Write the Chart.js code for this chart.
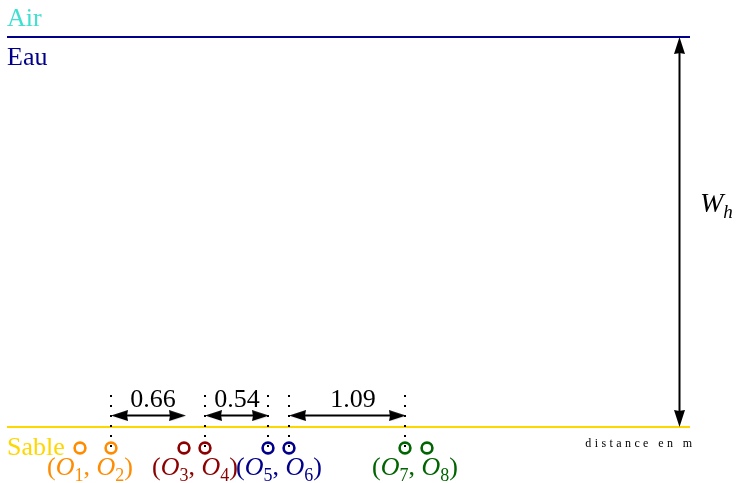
<!DOCTYPE html>
<html lang="fr">
<head>
<meta charset="utf-8">
<title>Capteurs</title>
<script src="https://cdn.jsdelivr.net/npm/chart.js@4.4.0/dist/chart.umd.min.js"></script>
<style>
  html, body { margin: 0; padding: 0; background: #fff; }
  #zone { width: 738px; height: 483px; position: relative; }
</style>
</head>
<body>
<div id="zone"><canvas id="schema"></canvas></div>
<script>
// ------------ Données (distances en m) ------------
const capteurs = ['O_1', 'O_2', 'O_3', 'O_4', 'O_5', 'O_6', 'O_7', 'O_8'];
const positionsCapteurs = [0.80, 1.11, 1.84, 2.05, 2.68, 2.89, 4.05, 4.27];
const paires = ['(O_1, O_2)', '(O_3, O_4)', '(O_5, O_6)', '(O_7, O_8)'];
const centresPaires = [0.90, 1.95, 2.79, 4.15];
const couleursPaires = ['#ff8c00', '#8b0000', '#00008b', '#006400'];

const reperes = [1.11, 2.05, 2.68, 2.89, 4.05];
const cotes = ['0.66', '0.54', '1.09'];
const cotesDebut = [1.11, 2.05, 2.89];
const cotesFin = [1.86, 2.69, 4.06];
const centresCotes = [1.53, 2.37, 3.53];

const couches = ['Air', 'Eau', 'Sable'];
const debutFond = 0.07, finFond = 6.90;
const niveauEau = 0;
const niveauSable = 3.90;
const profondeurCapteurs = 4.11;
const hautReperes = 3.58;
const niveauCotes = 3.786;
const positionWh = 6.795;

// ------------ Styles ------------
const police = '"Liberation Serif", "DejaVu Serif", serif';
const taille = 26;
const demiPointe = 0.085; // demi-longueur de la pointe, en unités du schéma

function pointeFleche(long, larg) {
  const c = document.createElement('canvas');
  c.width = long;
  c.height = larg;
  const g = c.getContext('2d');
  g.fillStyle = '#000';
  g.beginPath();
  g.moveTo(0, 0);
  g.lineTo(long, larg / 2);
  g.lineTo(0, larg);
  g.quadraticCurveTo(long * 0.1, larg / 2, 0, 0);
  g.fill();
  return c;
}
const pointe = pointeFleche(17, 11);

function segment(x1, y1, x2, y2, couleur, extra) {
  return Object.assign({
    data: [{ x: x1, y: y1 }, { x: x2, y: y2 }],
    showLine: true,
    borderColor: couleur,
    borderWidth: 2,
    pointRadius: 0
  }, extra || {});
}

// ------------ Jeux de données ------------
const jeux = [];

// pointillés des repères (au-dessus des cercles)
reperes.forEach(x => jeux.push(segment(x, hautReperes, x, profondeurCapteurs, '#000', { borderDash: [2, 8] })));

// capteurs
couleursPaires.forEach((couleur, i) => {
  jeux.push({
    data: positionsCapteurs.slice(i * 2, i * 2 + 2).map(x => ({ x, y: profondeurCapteurs })),
    pointStyle: 'circle',
    pointRadius: 5.4,
    borderWidth: 2.6,
    borderColor: couleur,
    backgroundColor: '#fff'
  });
});

// pointes des flèches
const pointes = [], rotations = [];
cotesDebut.forEach((d, i) => {
  pointes.push({ x: d + demiPointe, y: niveauCotes }, { x: cotesFin[i] - demiPointe, y: niveauCotes });
  rotations.push(180, 0);
});
pointes.push({ x: positionWh, y: niveauEau + demiPointe }, { x: positionWh, y: niveauSable - demiPointe });
rotations.push(270, 90);
jeux.push({ data: pointes, pointStyle: pointe, pointRotation: rotations, pointRadius: 9 });

// tiges des flèches
cotesDebut.forEach((d, i) => jeux.push(segment(d + demiPointe, niveauCotes, cotesFin[i] - demiPointe, niveauCotes, '#000')));
jeux.push(segment(positionWh, niveauEau + demiPointe, positionWh, niveauSable - demiPointe, '#000'));

// surface de l'eau et fond sableux
jeux.push(segment(debutFond, niveauEau, finFond, niveauEau, '#00008b'));
jeux.push(segment(debutFond, niveauSable, finFond, niveauSable, '#ffd700'));

// ------------ Textes ------------
function texteMath(ctx, texte, x, y, align, couleur, t) {
  const morceaux = [];
  for (let i = 0; i < texte.length; i++) {
    const c = texte[i];
    if (c === '_') {
      const s = texte[++i];
      morceaux.push({ t: s, f: (/[a-z]/i.test(s) ? 'italic ' : '') + Math.round(t * 0.68) + 'px ' + police, dy: t * 0.22 });
    } else {
      morceaux.push({ t: c, f: (/[a-z]/i.test(c) ? 'italic ' : '') + t + 'px ' + police, dy: 0 });
    }
  }
  let largeur = 0;
  morceaux.forEach(m => { ctx.font = m.f; m.w = ctx.measureText(m.t).width; largeur += m.w; });
  let cx = align === 'center' ? x - largeur / 2 : x;
  ctx.fillStyle = couleur;
  ctx.textAlign = 'left';
  ctx.textBaseline = 'alphabetic';
  morceaux.forEach(m => { ctx.font = m.f; ctx.fillText(m.t, cx, y + m.dy); cx += m.w; });
}

const textes = {
  id: 'textes',
  afterDraw(chart) {
    const { ctx, scales: { x, y } } = chart;
    ctx.save();
    ctx.textBaseline = 'alphabetic';
    ctx.textAlign = 'left';
    ctx.font = taille + 'px ' + police;
    ctx.fillStyle = '#40e0d0';
    ctx.fillText(couches[0], x.getPixelForValue(debutFond), y.getPixelForValue(niveauEau - 0.11));
    ctx.fillStyle = '#00008b';
    ctx.fillText(couches[1], x.getPixelForValue(debutFond), y.getPixelForValue(niveauEau + 0.28));
    ctx.fillStyle = '#ffd700';
    ctx.fillText(couches[2], x.getPixelForValue(debutFond), y.getPixelForValue(niveauSable + 0.275));

    paires.forEach((p, i) => texteMath(ctx, p, x.getPixelForValue(centresPaires[i]), y.getPixelForValue(profondeurCapteurs + 0.27), 'center', couleursPaires[i], taille));

    ctx.font = taille + 'px ' + police;
    ctx.fillStyle = '#000';
    ctx.textAlign = 'center';
    cotes.forEach((c, i) => ctx.fillText(c, x.getPixelForValue(centresCotes[i]), y.getPixelForValue(niveauCotes - 0.085)));

    texteMath(ctx, 'W_h', x.getPixelForValue(positionWh + 0.205), y.getPixelForValue((niveauEau + niveauSable) / 2 - 0.2), 'left', '#000', 28);

    ctx.font = '12px ' + police;
    ctx.letterSpacing = '3.4px';
    ctx.textAlign = 'right';
    ctx.fillStyle = '#000';
    ctx.fillText('distance en m', x.getPixelForValue(finFond + 0.055), y.getPixelForValue(profondeurCapteurs - 0.01));
    ctx.restore();
  }
};

new Chart(document.getElementById('schema'), {
  type: 'scatter',
  data: { datasets: jeux },
  options: {
    responsive: true,
    maintainAspectRatio: false,
    animation: false,
    events: [],
    layout: { padding: 0, autoPadding: false },
    plugins: { legend: { display: false }, tooltip: { enabled: false } },
    scales: {
      x: { type: 'linear', min: 0, max: 7.38, display: false },
      y: { type: 'linear', min: -0.37, max: 4.46, reverse: true, display: false }
    }
  },
  plugins: [textes]
});
</script>
</body>
</html>
